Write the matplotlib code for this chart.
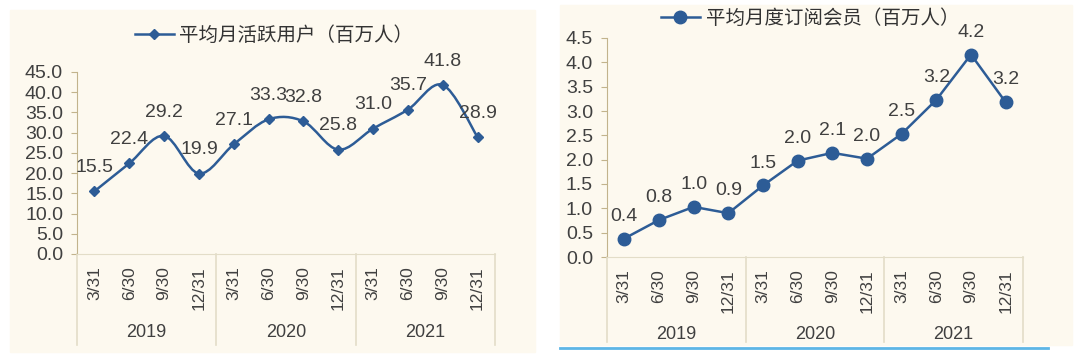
import numpy as np
import matplotlib
matplotlib.use('Agg')
import matplotlib.pyplot as plt
from matplotlib.path import Path
from matplotlib.patches import PathPatch, Rectangle
from matplotlib.lines import Line2D

plt.rcParams['font.family'] = ['Noto Sans CJK SC', 'DejaVu Sans']

quarters = ['3/31', '6/30', '9/30', '12/31'] * 3
years = ['2019', '2020', '2021']
mau = [15.5, 22.4, 29.2, 19.9, 27.1, 33.3, 32.8, 25.8, 31.0, 35.7, 41.8, 28.9]
subs = [0.38, 0.76, 1.03, 0.90, 1.47, 1.98, 2.14, 2.02, 2.53, 3.23, 4.16, 3.18]
mau_name = '平均月活跃用户（百万人）'
subs_name = '平均月度订阅会员（百万人）'

bg = '#FDF9EF'
line_c = '#2D5C96'
sep_c = '#E3DDC8'
spine_c = '#C2B38C'
txt_c = '#404040'
num_font = 'Liberation Sans'

fig = plt.figure(figsize=(10.8, 3.58), dpi=100)
fig.patch.set_facecolor('white')
fig.patches.append(Rectangle((10/1080, 1-352/358), 525/1080, 342/358,
                             transform=fig.transFigure, color=bg, zorder=-5))
fig.patches.append(Rectangle((560/1080, 1-345/358), 512/1080, 340/358,
                             transform=fig.transFigure, color=bg, zorder=-5))
fig.lines.append(Line2D([560/1080, 1048/1080], [1-348/358, 1-348/358],
                        transform=fig.transFigure, color='#5DB6E6', lw=2))


def smooth_path(x, y):
    # Catmull-Rom style bezier, like excel's smoothed line
    x = np.asarray(x, float)
    y = np.asarray(y, float)
    pts = np.column_stack([x, y])
    verts = [pts[0]]
    codes = [Path.MOVETO]
    n = len(pts)
    for i in range(n - 1):
        p0 = pts[i - 1] if i > 0 else pts[i]
        p1 = pts[i]
        p2 = pts[i + 1]
        p3 = pts[i + 2] if i + 2 < n else pts[i + 1]
        c1 = p1 + (p2 - p0) / 6
        c2 = p2 - (p3 - p1) / 6
        verts += [c1, c2, p2]
        codes += [Path.CURVE4] * 3
    return Path(verts, codes)


def setup(ax, ymax, step, year_y, sep_y):
    ax.set_facecolor('none')
    ax.set_xlim(-0.5, 11.5)
    ax.set_ylim(0, ymax)
    ax.set_yticks(np.arange(0, ymax + step / 2, step))
    ax.set_yticklabels([f'{v:.1f}' for v in np.arange(0, ymax + step / 2, step)])
    for s in ['top', 'right']:
        ax.spines[s].set_visible(False)
    ax.spines['left'].set_color(spine_c)
    ax.spines['bottom'].set_color(sep_c)
    ax.tick_params(axis='y', colors=spine_c, labelcolor=txt_c, labelsize=14,
                   length=4, pad=6)
    ax.set_xticks(range(12))
    ax.set_xticklabels(quarters, rotation=90, fontsize=12.5, color=txt_c,
                       family=num_font)
    ax.tick_params(axis='x', length=0, pad=9)
    for lab in ax.get_yticklabels():
        lab.set_family(num_font)
    tr = ax.get_xaxis_transform()
    for k in range(4):
        ax.plot([k * 4 - 0.5] * 2, [0, sep_y], color=sep_c, lw=1.2,
                transform=tr, clip_on=False)
    for k, yr in enumerate(years):
        ax.text(k * 4 + 1.5, year_y, yr, transform=tr, ha='center', va='center',
                fontsize=13, color=txt_c, family=num_font)


# left panel
ax1 = fig.add_axes([77/1080, 1-254/358, 418/1080, 182/358])
setup(ax1, 45, 5, -0.434, -0.5)
xs = np.arange(len(mau))
ax1.add_patch(PathPatch(smooth_path(xs, mau), fill=False, ec=line_c, lw=1.8))
ax1.plot(xs, mau, ls='none', marker='D', ms=5.5, color=line_c)
for x, v in zip(xs, mau):
    ax1.annotate(f'{v:.1f}', (x, v), xytext=(0, 11), textcoords='offset points',
                 ha='center', va='bottom', fontsize=14, color=txt_c,
                 family=num_font)
h1 = Line2D([], [], color=line_c, lw=1.8, marker='D', ms=5.5)
fig.legend([h1], [mau_name], loc='center', bbox_to_anchor=(274/1080, 1-35/358),
           frameon=False, fontsize=14, handlelength=2.0, handletextpad=0.3,
           labelcolor='#333333')

# right panel
ax2 = fig.add_axes([607/1080, 1-257/358, 416/1080, 219/358])
setup(ax2, 4.5, 0.5, -0.356, -0.39)
ax2.plot(xs, subs, color=line_c, lw=1.8, marker='o', ms=9)
for x, v in zip(xs, subs):
    ax2.annotate(f'{v:.1f}', (x, v), xytext=(0, 10), textcoords='offset points',
                 ha='center', va='bottom', fontsize=14, color=txt_c,
                 family=num_font)
h2 = Line2D([], [], color=line_c, lw=1.8, marker='o', ms=9)
fig.legend([h2], [subs_name], loc='center', bbox_to_anchor=(810/1080, 1-18/358),
           frameon=False, fontsize=14, handlelength=2.0, handletextpad=0.3,
           labelcolor='#333333')

fig.savefig('out.png', dpi=100, facecolor='white')
